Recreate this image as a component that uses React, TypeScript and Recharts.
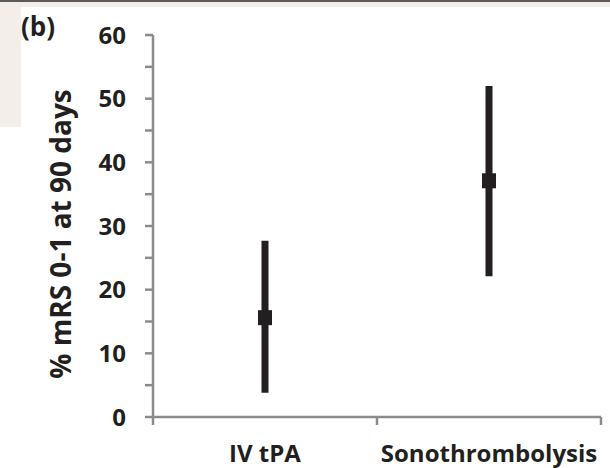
import React from 'react';
import { ComposedChart, Scatter, ErrorBar, XAxis, YAxis } from 'recharts';

const categories = ['IV tPA', 'Sonothrombolysis'];
const means = [15.6, 37.1];
const lows = [3.8, 22.1];
const highs = [27.7, 52.0];
const catPositions = [0.5, 1.5];
const boundaryTicks = [0, 1, 2];
const yTicks = [0, 5, 10, 15, 20, 25, 30, 35, 40, 45, 50, 55, 60];
const yTitle = '% mRS 0-1 at 90 days';
const panelLabel = '(b)';

const data = categories.map((c, i) => ({
  name: c,
  x: catPositions[i],
  y: means[i],
  err: [means[i] - lows[i], highs[i] - means[i]],
}));

const INK = '#231f20';
const AXIS = '#8a8a8a';
const FONT = "'Open Sans', sans-serif";

const SquareShape = (props: any) => {
  const { cx, cy } = props;
  return <rect x={cx - 7} y={cy - 7.5} width={14} height={15} fill={INK} />;
};

const YTitle = (props: any) => {
  const vb = props.viewBox || { x: 0, y: 35, width: 153, height: 382 };
  const cx = vb.x + 71;
  const cy = vb.y + vb.height / 2 + 8;
  return (
    <text
      x={cx}
      y={cy}
      transform={`rotate(-90, ${cx}, ${cy})`}
      textAnchor="middle"
      fontFamily={FONT}
      fontWeight={700}
      fontSize={28}
      fill={INK}
    >
      {yTitle}
    </text>
  );
};

const CatTick = (props: any) => {
  const { x, y, payload } = props;
  const label = categories[catPositions.indexOf(payload.value)] ?? '';
  return (
    <text x={x} y={y + 17} textAnchor="middle" fontFamily={FONT} fontWeight={700} fontSize={24} fill={INK}>
      {label}
    </text>
  );
};

const ValTick = (props: any) => {
  const { x, y, payload } = props;
  const v = payload.value as number;
  if (v % 10 !== 0) return <g />;
  return (
    <text x={x} y={y + 8.5} textAnchor="end" fontFamily={FONT} fontWeight={700} fontSize={24} fill={INK}>
      {String(v)}
    </text>
  );
};

export default function App() {
  return (
    <div style={{ position: 'absolute', left: 0, top: 0, width: 610, height: 468, background: '#ffffff', overflow: 'hidden' }}>
      <div style={{ position: 'absolute', left: 0, top: 0, width: 610, height: 2, background: '#5b5b5b' }} />
      <div style={{ position: 'absolute', left: 0, top: 2, width: 610, height: 5, background: '#f3eee9' }} />
      <div style={{ position: 'absolute', left: 0, top: 2, width: 21, height: 125, background: '#f3eee9' }} />
      <div style={{ position: 'absolute', left: 0, top: 0 }}>
        <ComposedChart width={610} height={468} data={data} margin={{ top: 35, right: 9, left: 0, bottom: 0 }}>
          <XAxis
            xAxisId="a"
            dataKey="x"
            type="number"
            domain={[0, 2]}
            allowDataOverflow
            ticks={boundaryTicks}
            interval={0}
            height={10}
            axisLine={{ stroke: AXIS, strokeWidth: 2.5 }}
            tickLine={{ stroke: AXIS, strokeWidth: 2.5 }}
            tickSize={8}
            tickFormatter={() => ''}
          />
          <XAxis
            xAxisId="b"
            dataKey="x"
            type="number"
            domain={[0, 2]}
            allowDataOverflow
            ticks={catPositions}
            interval={0}
            height={41}
            axisLine={false}
            tickLine={false}
            tickSize={0}
            tickMargin={18}
            tick={<CatTick />}
          />
          <YAxis
            yAxisId="y"
            type="number"
            domain={[0, 60]}
            allowDataOverflow
            ticks={yTicks}
            interval={0}
            width={153}
            axisLine={{ stroke: AXIS, strokeWidth: 2.5 }}
            tickLine={{ stroke: AXIS, strokeWidth: 2.5 }}
            tickSize={8}
            tickMargin={19}
            tick={<ValTick />}
            label={{ content: YTitle }}
          />
          <Scatter
            xAxisId="a"
            yAxisId="y"
            dataKey="y"
            fill={INK}
            shape={SquareShape}
            isAnimationActive={false}
          >
            <ErrorBar dataKey="err" direction="y" width={0} stroke={INK} strokeWidth={7} isAnimationActive={false} />
          </Scatter>
        </ComposedChart>
      </div>
      <svg width={120} height={60} style={{ position: 'absolute', left: 0, top: 0 }}>
        <text x={21} y={36} fontFamily={FONT} fontWeight={700} fontSize={26} fill={INK}>
          {panelLabel}
        </text>
      </svg>
    </div>
  );
}
